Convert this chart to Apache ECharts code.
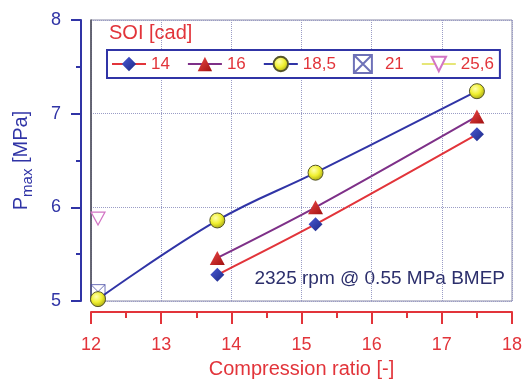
<!DOCTYPE html>
<html>
<head>
<meta charset="utf-8">
<script src="https://cdn.jsdelivr.net/npm/echarts@6/dist/echarts.min.js"></script>
<style>
html,body{margin:0;padding:0;background:#fff;}
#chart{width:528px;height:380px;}
</style>
</head>
<body>
<div id="chart"></div>
<script>
// Peak cylinder pressure vs compression ratio for several start-of-injection angles
const soiNames = ['14', '16', '18,5', '21', '25,6'];
const soi14 = [[13.8, 5.28], [15.2, 5.82], [17.5, 6.78]];
const soi16 = [[13.8, 5.46], [15.2, 6.0], [17.5, 6.97]];
const soi185 = [[12.1, 5.02], [13.8, 5.86], [15.2, 6.37], [17.5, 7.24]];
const soi21 = [[12.1, 5.1]];
const soi256 = [[12.1, 5.88]];
const xTicks = [12, 13, 14, 15, 16, 17, 18];
const yTicks = [5, 6, 7, 8];

const RED = '#e2343a';
const BLUE = '#3034a6';
const GRIDC = '#9a9cc6';
const FONT = 'Liberation Sans, Arial, sans-serif';

const boxCross = 'path://M0,0H20V20H0Z M0,0L20,20 M20,0L0,20';
const invTri = 'path://M0,0L20,0L10,17Z';

const chart = echarts.init(document.getElementById('chart'), null, {renderer: 'canvas'});

const option = {
  animation: false,
  backgroundColor: '#fff',
  textStyle: {fontFamily: FONT},
  title: {
    text: 'SOI [cad]',
    left: 109, top: 23, padding: [0, 0, 0, 0],
    textStyle: {color: RED, fontSize: 20, fontWeight: 'normal', fontFamily: FONT}
  },
  legend: {
    left: 107, top: 50, width: 390, height: 18,
    padding: [4, 6, 4, 4],
    borderColor: BLUE, borderWidth: 2,
    backgroundColor: '#fff',
    itemWidth: 34, itemHeight: 18, itemGap: 17,
    data: soiNames,
    textStyle: {color: RED, fontSize: 17, fontFamily: FONT, padding: [0, 0, 0, 0]}
  },
  grid: {
    left: 91, top: 20, right: 16, bottom: 79,
    outerBoundsMode: 'none', containLabel: false,
    show: true, borderColor: '#8a8aa6', borderWidth: 1
  },
  xAxis: {
    type: 'value', min: xTicks[0], max: xTicks[xTicks.length - 1], interval: 1,
    offset: 11,
    name: 'Compression ratio [-]', nameLocation: 'middle', nameGap: 47,
    nameTextStyle: {color: RED, fontSize: 20, fontFamily: FONT},
    axisLine: {show: true, lineStyle: {color: RED, width: 2}},
    axisTick: {show: true, length: 12, lineStyle: {color: RED, width: 2}},
    minorTick: {show: true, splitNumber: 2, length: 6, lineStyle: {color: RED, width: 2}},
    axisLabel: {color: RED, fontSize: 18, margin: 24, fontFamily: FONT},
    splitLine: {show: true, lineStyle: {color: GRIDC, type: 'dotted', width: 1}}
  },
  yAxis: [{
    type: 'value', min: yTicks[0], max: yTicks[yTicks.length - 1], interval: 1,
    offset: 10,
    name: '{p|P}{s|max}{p| [MPa]}', nameLocation: 'middle', nameGap: 50, nameRotate: 90,
    nameTextStyle: {
      color: BLUE, fontSize: 20, fontFamily: FONT,
      rich: {
        p: {color: BLUE, fontSize: 20, fontFamily: FONT, lineHeight: 24, verticalAlign: 'bottom'},
        s: {color: BLUE, fontSize: 15, fontFamily: FONT, lineHeight: 24, verticalAlign: 'bottom', padding: [0, 0, -4, 0]}
      }
    },
    axisLine: {show: true, lineStyle: {color: BLUE, width: 2}},
    axisTick: {show: true, length: 10, lineStyle: {color: BLUE, width: 2}},
    minorTick: {show: true, splitNumber: 2, length: 5, lineStyle: {color: BLUE, width: 2}},
    axisLabel: {color: BLUE, fontSize: 18, margin: 20, fontFamily: FONT},
    splitLine: {show: true, lineStyle: {color: GRIDC, type: 'dotted', width: 1}}
  }, {
    // darker left frame edge of the plotting area
    type: 'value', min: yTicks[0], max: yTicks[yTicks.length - 1], position: 'left', offset: 0,
    axisLine: {show: true, lineStyle: {color: '#4a4a56', width: 1.5}},
    axisTick: {show: false}, axisLabel: {show: false}, splitLine: {show: false}
  }],
  graphic: [{
    type: 'text', right: 23, top: 269,
    style: {text: '2325 rpm @ 0.55 MPa BMEP', fill: '#2c2f6c', fontSize: 19, fontFamily: FONT}
  }],
  series: [{
    name: soiNames[0], type: 'line', data: soi14, smooth: 0.3,
    symbol: 'diamond', symbolSize: 14,
    lineStyle: {color: RED, width: 2},
    itemStyle: {
      color: new echarts.graphic.LinearGradient(0, 0, 1, 1, [{offset: 0, color: '#4a5ad6'}, {offset: 1, color: '#1c2884'}]),
      borderWidth: 0
    },
    z: 3
  }, {
    name: soiNames[1], type: 'line', data: soi16, smooth: 0.3,
    symbol: 'triangle', symbolSize: [15, 14],
    lineStyle: {color: '#7e3088', width: 2},
    itemStyle: {
      color: new echarts.graphic.LinearGradient(0, 0, 1, 1, [{offset: 0, color: '#ee4a4a'}, {offset: 1, color: '#a01010'}]),
      borderWidth: 0
    },
    z: 3
  }, {
    name: soiNames[2], type: 'line', data: soi185, smooth: 0.4,
    symbol: 'circle', symbolSize: 15,
    lineStyle: {color: BLUE, width: 2},
    itemStyle: {
      color: new echarts.graphic.RadialGradient(0.4, 0.35, 0.7, [{offset: 0, color: '#ffffb0'}, {offset: 0.5, color: '#f0f030'}, {offset: 1, color: '#a0a010'}]),
      borderColor: '#55552a', borderWidth: 1
    },
    z: 4
  }, {
    name: soiNames[3], type: 'scatter', data: soi21,
    symbol: boxCross, symbolSize: 14,
    itemStyle: {color: 'rgba(255,255,255,0)', borderColor: '#4a4ea6', borderWidth: 1},
    z: 3
  }, {
    name: soiNames[4], type: 'line', data: soi256,
    symbol: invTri, symbolSize: [14, 13],
    lineStyle: {color: '#e6e678', width: 2},
    itemStyle: {color: '#ffffff', borderColor: '#d274c4', borderWidth: 1.2},
    z: 3
  }]
};

chart.setOption(option);
</script>
</body>
</html>
